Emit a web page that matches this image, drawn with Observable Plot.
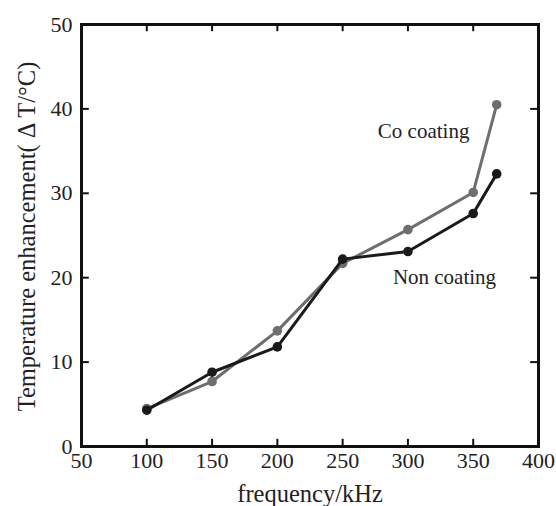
<!DOCTYPE html>
<html>
<head>
<meta charset="utf-8">
<script src="https://cdn.jsdelivr.net/npm/d3@7"></script>
<script src="https://cdn.jsdelivr.net/npm/@observablehq/plot@0.6"></script>
<style>
  html, body { margin: 0; padding: 0; background: #fff; }
  #chart svg, #chart svg text { font-family: "Liberation Serif", "DejaVu Serif", serif !important; }
</style>
</head>
<body>
<div id="chart"></div>
<script>
const frequency = [100, 150, 200, 250, 300, 350, 368];
const nonCoating = [4.3, 8.8, 11.8, 22.2, 23.1, 27.6, 32.3];
const coCoating = [4.5, 7.7, 13.7, 21.7, 25.7, 30.1, 40.5];
const xTicks = [50, 100, 150, 200, 250, 300, 350, 400];
const yTicks = [0, 10, 20, 30, 40, 50];
const seriesLabels = [
  {text: "Co coating", x: 312, y: 37.4, color: "#222"},
  {text: "Non coating", x: 328, y: 20.0, color: "#222"}
];
const xLabel = "frequency/kHz";
const yLabel = "Temperature enhancement( \u0394 T/\u00b0C)";

const nonData = frequency.map((f, i) => ({f, v: nonCoating[i]}));
const coData = frequency.map((f, i) => ({f, v: coCoating[i]}));

const W = 556, H = 506;
const mL = 81, mR = 18, mT = 24, mB = 60;

const chart = Plot.plot({
  width: W,
  height: H,
  marginLeft: mL,
  marginRight: mR,
  marginTop: mT,
  marginBottom: mB,
  style: {fontSize: "22px", color: "#222", background: "#fff"},
  x: {domain: [50, 400]},
  y: {domain: [0, 50]},
  marks: [
    Plot.axisX(xTicks, {tickSize: 0, tickPadding: 6, fontSize: 22, label: null, fill: "#222"}),
    Plot.axisY(yTicks, {tickSize: 0, tickPadding: 9, fontSize: 22, label: null, fill: "#222"}),
    // inward ticks on all sides
    Plot.ruleX(xTicks.slice(1, -1), {x: d => d, y1: 0, y2: 0.85, stroke: "#111", strokeWidth: 2}),
    Plot.ruleX(xTicks.slice(1, -1), {x: d => d, y1: 50, y2: 49.15, stroke: "#111", strokeWidth: 2}),
    Plot.ruleY(yTicks.slice(1, -1), {y: d => d, x1: 50, x2: 56, stroke: "#111", strokeWidth: 2}),
    Plot.ruleY(yTicks.slice(1, -1), {y: d => d, x1: 400, x2: 394, stroke: "#111", strokeWidth: 2}),
    Plot.line(coData, {x: "f", y: "v", stroke: "#6e6e6e", strokeWidth: 3}),
    Plot.dot(coData, {x: "f", y: "v", fill: "#6e6e6e", r: 4.8}),
    Plot.line(nonData, {x: "f", y: "v", stroke: "#1a1a1a", strokeWidth: 3}),
    Plot.dot(nonData, {x: "f", y: "v", fill: "#1a1a1a", r: 4.8}),
    Plot.text(seriesLabels, {x: "x", y: "y", text: "text", fill: "color", fontSize: 21}),
    Plot.text([xLabel], {frameAnchor: "bottom", lineAnchor: "middle", dy: 48, text: d => d, fontSize: 24.5, fill: "#222"}),
    Plot.text([yLabel], {frameAnchor: "left", textAnchor: "middle", lineAnchor: "middle", dx: -54, dy: 1, rotate: -90, text: d => d, fontSize: 24.5, fill: "#222"}),
    Plot.frame({stroke: "#111", strokeWidth: 3})
  ]
});
document.getElementById("chart").appendChild(chart);
</script>
</body>
</html>
